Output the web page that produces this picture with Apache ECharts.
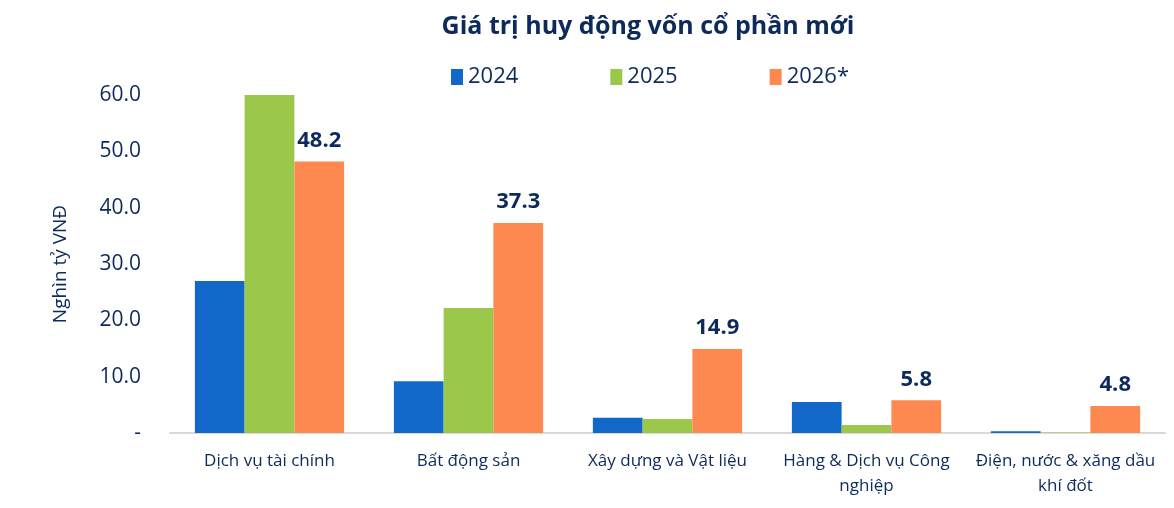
<!DOCTYPE html>
<html>
<head>
<meta charset="utf-8">
<script src="https://cdn.jsdelivr.net/npm/echarts@6/dist/echarts.min.js"></script>
<style>
  html, body { margin: 0; padding: 0; background: #fff; }
  #chart { width: 1174px; height: 508px; }
</style>
</head>
<body>
<div id="chart"></div>
<script>
const categories = [
  "Dịch vụ tài chính",
  "Bất động sản",
  "Xây dựng và Vật liệu",
  "Hàng & Dịch vụ Công\nnghiệp",
  "Điện, nước & xăng dầu\nkhí đốt"
];
const years = ["2024", "2025", "2026*"];
const values2024 = [27.0, 9.2, 2.7, 5.5, 0.3];
const values2025 = [60.0, 22.2, 2.5, 1.4, 0.1];
const values2026 = [48.2, 37.3, 14.9, 5.8, 4.8];

const navy = "#0d2a5c";
const font = "Open Sans";

let chart = echarts.init(document.getElementById("chart"));
let option = {
  title: {
    text: "Giá trị huy động vốn cổ phần mới",
    left: 643,
    textAlign: "center",
    top: 9,
    textStyle: {
      color: navy,
      fontSize: 25,
      fontWeight: "bold",
      fontFamily: font
    }
  },
  legend: {
    data: years,
    left: 446,
    top: 61,
    itemWidth: 12,
    itemHeight: 16,
    itemGap: 92,
    icon: "rect",
    textStyle: {
      color: navy,
      fontSize: 22,
      fontFamily: font
    }
  },
  grid: {
    left: 170,
    right: 9,
    top: 95,
    bottom: 75
  },
  xAxis: {
    type: "category",
    data: categories,
    axisLine: {
      lineStyle: { color: "#d9d9d9", width: 2 }
    },
    axisTick: { show: false },
    axisLabel: {
      color: navy,
      fontSize: 17,
      fontFamily: font,
      margin: 16,
      lineHeight: 25,
      interval: 0
    }
  },
  yAxis: {
    type: "value",
    min: 0,
    max: 60,
    interval: 10,
    name: "Nghìn tỷ VNĐ",
    nameLocation: "middle",
    nameGap: 100,
    nameTextStyle: {
      color: navy,
      fontSize: 19,
      fontFamily: font
    },
    splitLine: { show: false },
    axisLine: { show: false },
    axisTick: { show: false },
    axisLabel: {
      color: navy,
      fontSize: 21,
      fontFamily: font,
      margin: 29,
      formatter: function (v) {
        return v === 0 ? "-" : v.toFixed(1);
      }
    }
  },
  series: [
    {
      name: years[0],
      type: "bar",
      data: values2024,
      barGap: "0%",
      barCategoryGap: "25%",
      itemStyle: { color: "#1268c8" }
    },
    {
      name: years[1],
      type: "bar",
      data: values2025,
      itemStyle: { color: "#9bc84a" }
    },
    {
      name: years[2],
      type: "bar",
      data: values2026,
      itemStyle: { color: "#fd8850" },
      label: {
        show: true,
        position: "top",
        distance: 10,
        color: navy,
        fontSize: 22,
        fontWeight: "bold",
        fontFamily: font,
        formatter: function (p) {
          return p.value.toFixed(1);
        }
      }
    }
  ]
};
chart.setOption(option);
</script>
</body>
</html>
